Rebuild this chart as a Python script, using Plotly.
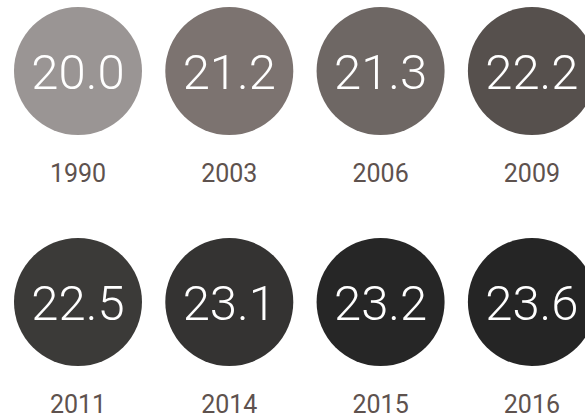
import plotly.graph_objects as go

years = ["1990", "2003", "2006", "2009", "2011", "2014", "2015", "2016"]
values = [20.0, 21.2, 21.3, 22.2, 22.5, 23.1, 23.2, 23.6]
colors = ["#9a9594", "#7c7370", "#6e6764", "#56504d", "#3b3a38", "#343332", "#262626", "#252525"]

cols = [i % 4 for i in range(len(years))]
rows = [i // 4 for i in range(len(years))]
value_offset = 0.024
label_offset = 0.455

fig = go.Figure()
fig.add_trace(go.Scatter(
    x=cols, y=rows, mode="markers",
    marker=dict(size=128, color=colors, line=dict(width=0)),
    hoverinfo="skip", showlegend=False,
))
fig.add_trace(go.Scatter(
    x=cols, y=[r + value_offset for r in rows], mode="text",
    text=[f"{v:.1f}" for v in values],
    textposition="middle center",
    textfont=dict(family="Roboto", size=49, color="white", weight=300),
    hoverinfo="skip", showlegend=False,
))
fig.add_trace(go.Scatter(
    x=cols, y=[r + label_offset for r in rows], mode="text",
    text=years, textposition="middle center",
    textfont=dict(family="Roboto", size=25, color="#5e524e"),
    hoverinfo="skip", showlegend=False,
))

fig.update_layout(
    width=585, height=418,
    margin=dict(l=0, r=0, t=0, b=0),
    paper_bgcolor="white", plot_bgcolor="white",
    xaxis=dict(range=[-0.5155, 3.351], visible=False, fixedrange=True),
    yaxis=dict(range=[1.5022, -0.3074], visible=False, fixedrange=True),
)
fig.write_html("out.html", config={"displayModeBar": False},
               post_script="document.body.style.margin='0';document.body.style.overflow='hidden';")
